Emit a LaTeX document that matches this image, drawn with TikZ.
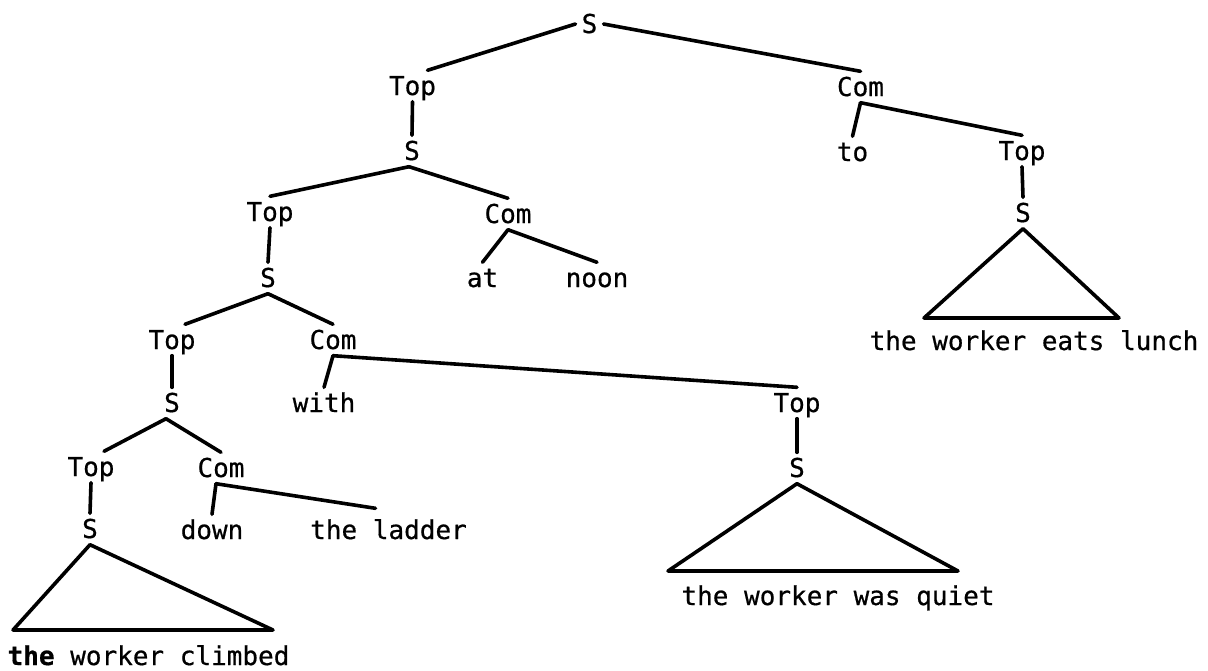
\documentclass[tikz,border=0pt]{standalone}
\usepackage{fontspec}
\newfontfamily\typewriter[FakeBold=0.6]{DejaVu Sans Mono}

\begin{document}
\begin{tikzpicture}[x=1pt,y=-1pt,
      cat/.style={inner xsep=6pt,inner ysep=6.5pt,text height=18pt,text depth=0pt,
        anchor=base,font=\typewriter\fontsize{26}{30}\selectfont},
      branch/.style={line width=3.6pt,line cap=round,line join=round}]
\useasboundingbox (0,0) rectangle (1208,670);
\node (S0) [cat] at (589.5,33) {S};
\node (Top1) [cat] at (412.5,95) {Top};
\node (Com1) [cat] at (860.5,96) {Com};
\node (S1) [cat] at (412,160) {S};
\node (To) [cat] at (852.5,161) {to};
\node (Top3) [cat] at (1022,160) {Top};
\node (Top2) [cat] at (270,221) {Top};
\node (Com2) [cat] at (508,223) {Com};
\node (S3) [cat] at (1023,222) {S};
\node (S2) [cat] at (268,287) {S};
\node (At) [cat] at (482.5,287) {at};
\node (Noon) [cat] at (597,287) {noon};
\node (Lunch) [cat] at (1034,350) {the worker eats lunch};
\node (Top4) [cat] at (172,349) {Top};
\node (Com3) [cat] at (333,349) {Com};
\node (S4) [cat] at (172,412) {S};
\node (With) [cat] at (324,412) {with};
\node (Top5) [cat] at (797,412) {Top};
\node (Top6) [cat] at (91,476) {Top};
\node (Com4) [cat] at (221,477) {Com};
\node (S7) [cat] at (797,477) {S};
\node (S5) [cat] at (90,538) {S};
\node (Down) [cat] at (212,539) {down};
\node (Ladder) [cat] at (388.5,539) {the ladder};
\node (Quiet) [cat] at (838,605) {the worker was quiet};
\node (Climbed) [cat] at (148.5,665) {\textbf{the} worker climbed};
\coordinate (S3l) at (924,318);
\coordinate (S3r) at (1119,318);
\coordinate (S7l) at (668,571);
\coordinate (S7r) at (958,571);
\coordinate (S5l) at (13,630);
\coordinate (S5r) at (273,630);
\draw [branch] (S0.west) -- ([xshift=15pt]Top1.north);
\draw [branch] (S0.east) -- (Com1.north);
\draw [branch] (Top1.south) -- (S1.north);
\draw [branch] (Com1.south) -- (To.north);
\draw [branch] (Com1.south) -- (Top3.north);
\draw [branch] (Top3.south) -- (S3.north);
\draw [branch] (S3.south) -- (S3l) -- (S3r) -- cycle;
\draw [branch] ([xshift=-3pt]S1.south) -- (Top2.north);
\draw [branch] ([xshift=-3pt]S1.south) -- (Com2.north);
\draw [branch] (Top2.south) -- (S2.north);
\draw [branch] (Com2.south) -- (At.north);
\draw [branch] (Com2.south) -- (Noon.north);
\draw [branch] (S2.south) -- ([xshift=13pt]Top4.north);
\draw [branch] (S2.south) -- (Com3.north);
\draw [branch] (Top4.south) -- (S4.north);
\draw [branch] (Com3.south) -- (With.north);
\draw [branch] (Com3.south) -- (Top5.north);
\draw [branch] (Top5.south) -- (S7.north);
\draw [branch] (S7.south) -- (S7l) -- (S7r) -- cycle;
\draw [branch] ([xshift=-6pt]S4.south) -- ([xshift=13pt]Top6.north);
\draw [branch] ([xshift=-6pt]S4.south) -- (Com4.north);
\draw [branch] (Top6.south) -- (S5.north);
\draw [branch] ([xshift=-5pt]Com4.south) -- (Down.north);
\draw [branch] ([xshift=-5pt]Com4.south) -- ([xshift=-13pt,yshift=6pt]Ladder.north);
\draw [branch] (S5.south) -- (S5l) -- (S5r) -- cycle;
\end{tikzpicture}
\end{document}
